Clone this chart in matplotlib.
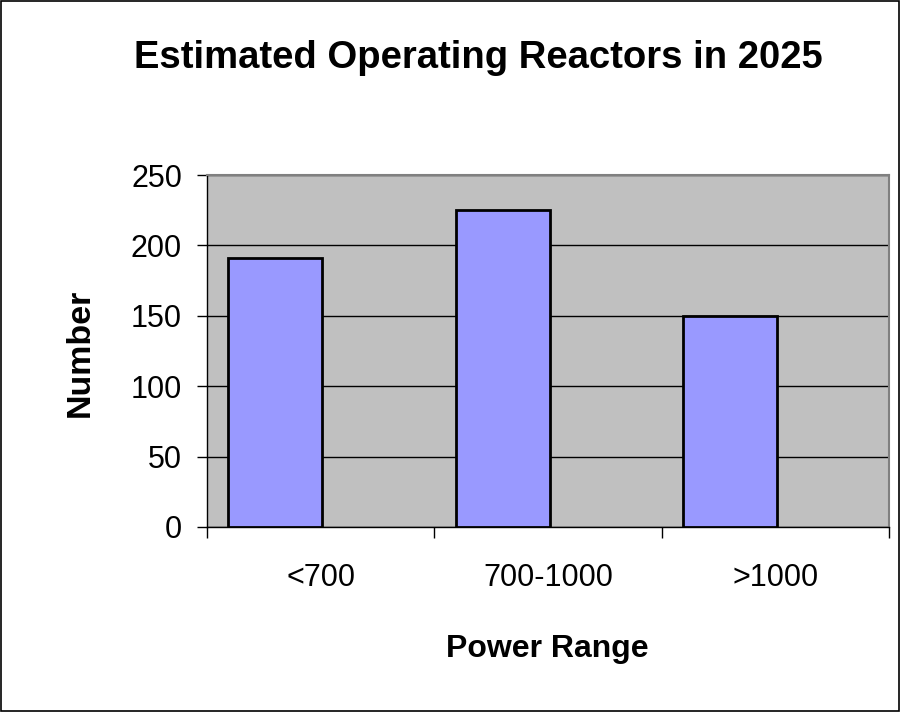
import matplotlib
matplotlib.use("Agg")
import matplotlib.pyplot as plt
from matplotlib.patches import Rectangle

categories = ["<700", "700-1000", ">1000"]
counts = [191, 225, 150]
yticks = [0, 50, 100, 150, 200, 250]

plt.rcParams['font.family'] = ['Liberation Sans', 'DejaVu Sans']

fig = plt.figure(figsize=(9, 7.12), dpi=100)
fig.patches.append(Rectangle((0.001, 0.001), 0.998, 0.998, transform=fig.transFigure,
                             fill=False, edgecolor='black', linewidth=1.2))

ax = fig.add_axes([0.230, 0.260, 0.758, 0.494])
ax.set_facecolor('#C0C0C0')

x = list(range(len(categories)))
ax.bar([i - 0.2 for i in x], counts, width=0.414, color='#9999FF',
       edgecolor='black', linewidth=2, zorder=3)

ax.set_xlim(-0.5, 2.5)
ax.set_ylim(0, 250)
ax.set_yticks(yticks)
ax.set_yticklabels([str(v) for v in yticks], fontsize=22)
ax.yaxis.grid(True, color='black', linewidth=1)
ax.set_axisbelow(True)

# category labels sit between the tick marks
ax.set_xticks(x)
ax.set_xticklabels(categories, fontsize=22)
ax.tick_params(axis='x', which='major', length=0, pad=26)
ax.set_xticks([-0.5, 0.5, 1.5, 2.5], minor=True)
ax.tick_params(axis='x', which='minor', length=8, direction='out', width=1)
ax.tick_params(axis='y', length=7, direction='out', width=1, pad=11)

for side in ['top', 'right']:
    ax.spines[side].set_color('#808080')
    ax.spines[side].set_linewidth(1.5)
for side in ['left', 'bottom']:
    ax.spines[side].set_color('black')
    ax.spines[side].set_linewidth(1)

fig.text(0.531, 0.9045, "Estimated Operating Reactors in 2025", ha='center', va='baseline',
         fontsize=27.5, fontweight='bold')
fig.text(0.089, 0.504, "Number", ha='center', va='center', rotation=90,
         fontsize=24.5, fontweight='bold')
fig.text(0.608, 0.0772, "Power Range", ha='center', va='baseline',
         fontsize=23, fontweight='bold')

fig.savefig("out.png", dpi=100)
